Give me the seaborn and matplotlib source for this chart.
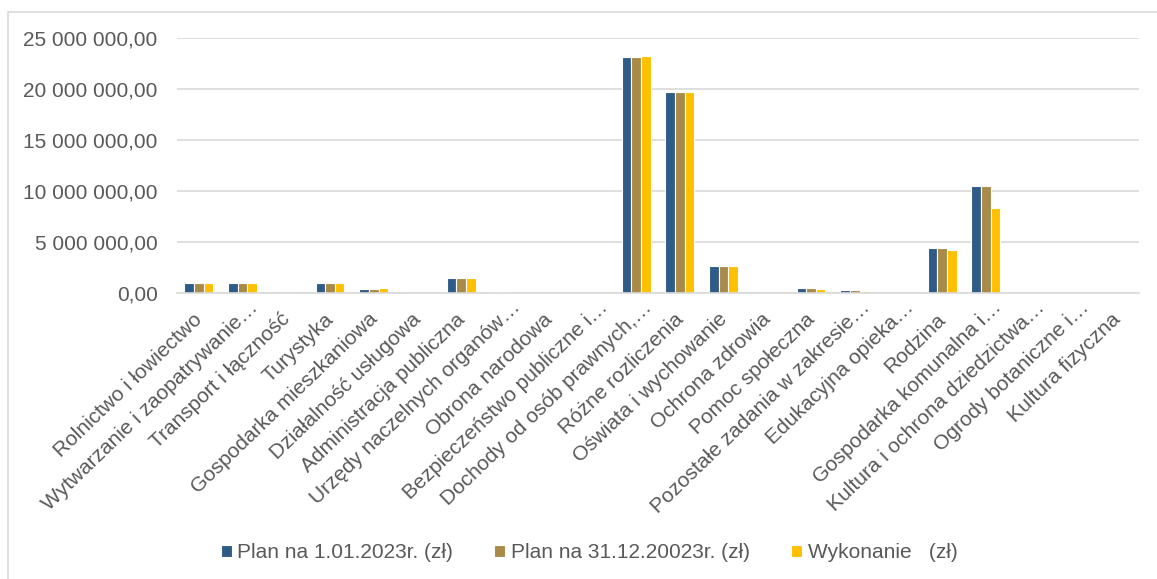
import pandas as pd
import numpy as np
import matplotlib.pyplot as plt
import seaborn as sns
from matplotlib.ticker import FuncFormatter
from matplotlib.patches import Rectangle
from matplotlib.transforms import ScaledTranslation

# Categories (dzialy budzetowe)
kategorie = ['Rolnictwo i łowiectwo', 'Wytwarzanie i zaopatrywanie…', 'Transport i łączność',
             'Turystyka', 'Gospodarka mieszkaniowa', 'Działalność usługowa',
             'Administracja publiczna', 'Urzędy naczelnych organów…', 'Obrona narodowa',
             'Bezpieczeństwo publiczne i…', 'Dochody od osób prawnych,…', 'Różne rozliczenia',
             'Oświata i wychowanie', 'Ochrona zdrowia', 'Pomoc społeczna',
             'Pozostałe zadania w zakresie…', 'Edukacyjna opieka…', 'Rodzina',
             'Gospodarka komunalna i…', 'Kultura i ochrona dziedzictwa…', 'Ogrody botaniczne i…',
             'Kultura fizyczna']

plan_poczatkowy = [950000, 950000, 0, 950000, 360000, 0, 1500000, 50000, 5000, 10000,
                   23150000, 19700000, 2650000, 5000, 460000, 260000, 5000, 4380000,
                   10490000, 20000, 10000, 10000]
plan_koncowy = [950000, 950000, 0, 950000, 360000, 0, 1500000, 50000, 5000, 10000,
                23150000, 19700000, 2650000, 5000, 460000, 260000, 5000, 4380000,
                10490000, 20000, 10000, 10000]
wykonanie = [950000, 950000, 0, 950000, 450000, 0, 1480000, 40000, 5000, 10000,
             23250000, 19700000, 2640000, 5000, 430000, 220000, 5000, 4190000,
             8300000, 20000, 10000, 10000]

serie = ['Plan na 1.01.2023r. (zł)', 'Plan na 31.12.20023r. (zł)', 'Wykonanie   (zł)']
kolory = ['#2F5B88', '#A98A48', '#FFC000']

df = pd.DataFrame({'Dzial': kategorie * 3,
                   'Seria': np.repeat(serie, len(kategorie)),
                   'Kwota': plan_poczatkowy + plan_koncowy + wykonanie})

plt.rcParams['font.family'] = ['Liberation Sans', 'DejaVu Sans']
fig = plt.figure(figsize=(11.57, 5.79), dpi=100)
ax = fig.add_axes([0.153, 0.494, 0.8314, 0.44])

sns.barplot(data=df, x='Dzial', y='Kwota', hue='Seria', palette=kolory, saturation=1,
            width=0.66, edgecolor='white', linewidth=0.8, ax=ax)

ax.set_ylim(0, 25000000)
ax.set_yticks(np.arange(0, 25000001, 5000000))
ax.yaxis.set_major_formatter(FuncFormatter(lambda v, p: f'{v:,.2f}'.replace(',', ' ').replace('.', ',')))
ax.set_xlim(-0.5, len(kategorie) - 0.5)
ax.grid(axis='y', color='#D9D9D9', linewidth=1.2)
ax.set_axisbelow(True)
for s in ['left', 'right', 'top']:
    ax.spines[s].set_visible(False)
ax.spines['bottom'].set_color('#D9D9D9')
ax.spines['bottom'].set_linewidth(1.2)
ax.tick_params(axis='both', length=0, labelsize=15, colors='#595959')
ax.tick_params(axis='y', pad=14)
ax.tick_params(axis='x', pad=12)
ax.set_xlabel('')
ax.set_ylabel('')

# rotated labels; truncated ones (with …) sit a bit further along the text direction
przesun = ScaledTranslation(-6 / 100, 0, fig.dpi_scale_trans)
przesun_skrot = ScaledTranslation(6 / 100, 12 / 100, fig.dpi_scale_trans)
for lab in ax.get_xticklabels():
    lab.set_rotation(44)
    lab.set_ha('right')
    lab.set_va('top')
    lab.set_rotation_mode('anchor')
    if lab.get_text().endswith('…'):
        lab.set_transform(lab.get_transform() + przesun_skrot)
    else:
        lab.set_transform(lab.get_transform() + przesun)

leg = ax.legend(loc='center', ncol=3, frameon=False, fontsize=15, handlelength=0.53,
                handleheight=0.53, handletextpad=0.25, columnspacing=2.0, labelcolor='#595959')
leg.set_bbox_to_anchor((589 / 1157, 1 - 553 / 579), transform=fig.transFigure)

fig.patches.append(Rectangle((8 / 1157, -0.1), 1.2, 1.1 - 12 / 579, transform=fig.transFigure,
                             fill=False, edgecolor='#D9D9D9', linewidth=1.2))

fig.savefig('out.png', dpi=100)
